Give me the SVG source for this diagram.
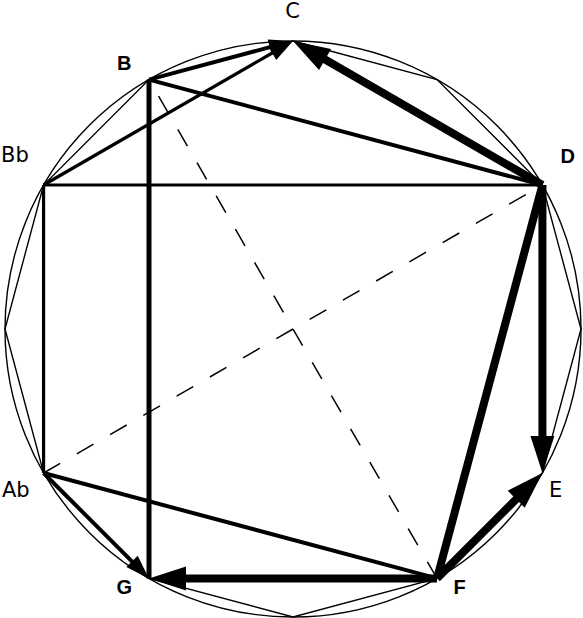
<svg xmlns="http://www.w3.org/2000/svg" width="583" height="618" viewBox="0 0 583 618">
<style>
.thin{fill:none;stroke:#000;stroke-width:1.4}
.dash{fill:none;stroke:#000;stroke-width:1.5;stroke-dasharray:19.2 19.2}
.m3{fill:none;stroke:#000;stroke-width:3.2}
.m4{fill:none;stroke:#000;stroke-width:4}
.m5{fill:none;stroke:#000;stroke-width:5}
.thick{fill:none;stroke:#000;stroke-width:8}
.lr{font-family:"DejaVu Sans",sans-serif;font-size:21px;fill:#000}
.lb{font-family:"Liberation Sans",Arial,sans-serif;font-size:20px;font-weight:bold;fill:#000}
</style>
<defs>
<marker id="hm" markerUnits="userSpaceOnUse" markerWidth="30" markerHeight="20" viewBox="0 -10 30 20" refX="2" refY="0" orient="auto" overflow="visible">
<path d="M0,-8 L24,0 L0,8 Z" fill="#000"/>
</marker>
<marker id="ht" markerUnits="userSpaceOnUse" markerWidth="40" markerHeight="30" viewBox="0 -15 40 30" refX="3" refY="0" orient="auto" overflow="visible">
<path d="M0,-12 L37,0 L0,12 Z" fill="#000"/>
</marker>
</defs>
<rect width="583" height="618" fill="#fff"/>
<g id="frame">
<circle class="thin" cx="293" cy="329" r="288"/>
<polygon class="thin" points="293,41 437,79.58 542.42,185 581,329 542.42,473 437,578.42 293,617 149,578.42 43.58,473 5,329 43.58,185 149,79.58"/>
</g>
<g id="connectors">
<line class="dash" x1="437" y1="578.42" x2="149" y2="79.58"/>
<line class="dash" x1="43.58" y1="473" x2="542.42" y2="185"/>
<line class="m3" x1="43.58" y1="185" x2="542.42" y2="185"/>
<line class="m3" x1="43.58" y1="185" x2="43.58" y2="473"/>
<line class="m4" x1="149" y1="79.58" x2="542.42" y2="185"/>
<line class="m4" x1="43.58" y1="473" x2="437" y2="578.42"/>
<line class="m5" x1="149" y1="79.58" x2="149" y2="578.42"/>
<line class="m4" x1="149" y1="79.58" x2="271.75" y2="46.69" marker-end="url(#hm)"/>
<line class="m3" x1="43.58" y1="185" x2="273.95" y2="52" marker-end="url(#hm)"/>
<line class="m4" x1="43.58" y1="473" x2="133.44" y2="562.86" marker-end="url(#hm)"/>
<line class="thick" x1="542.42" y1="185" x2="437" y2="578.42"/>
<line class="thick" x1="542.42" y1="185" x2="322.44" y2="58" marker-end="url(#ht)"/>
<line class="thick" x1="542.42" y1="185" x2="542.42" y2="439" marker-end="url(#ht)"/>
<line class="thick" x1="437" y1="578.42" x2="518.38" y2="497.04" marker-end="url(#ht)"/>
<line class="thick" x1="437" y1="578.42" x2="183" y2="578.42" marker-end="url(#ht)"/>
</g>
<g id="node-C"><text class="lr" x="292.5" y="18" text-anchor="middle">C</text></g>
<g id="node-B"><text class="lb" x="117" y="70">B</text></g>
<g id="node-Bb"><text class="lr" x="1" y="162">Bb</text></g>
<g id="node-D"><text class="lb" x="560.5" y="163">D</text></g>
<g id="node-Ab"><text class="lr" x="2" y="497">Ab</text></g>
<g id="node-E"><text class="lr" x="549" y="497">E</text></g>
<g id="node-G"><text class="lb" x="116.5" y="594">G</text></g>
<g id="node-F"><text class="lb" x="453.5" y="594">F</text></g>
</svg>
